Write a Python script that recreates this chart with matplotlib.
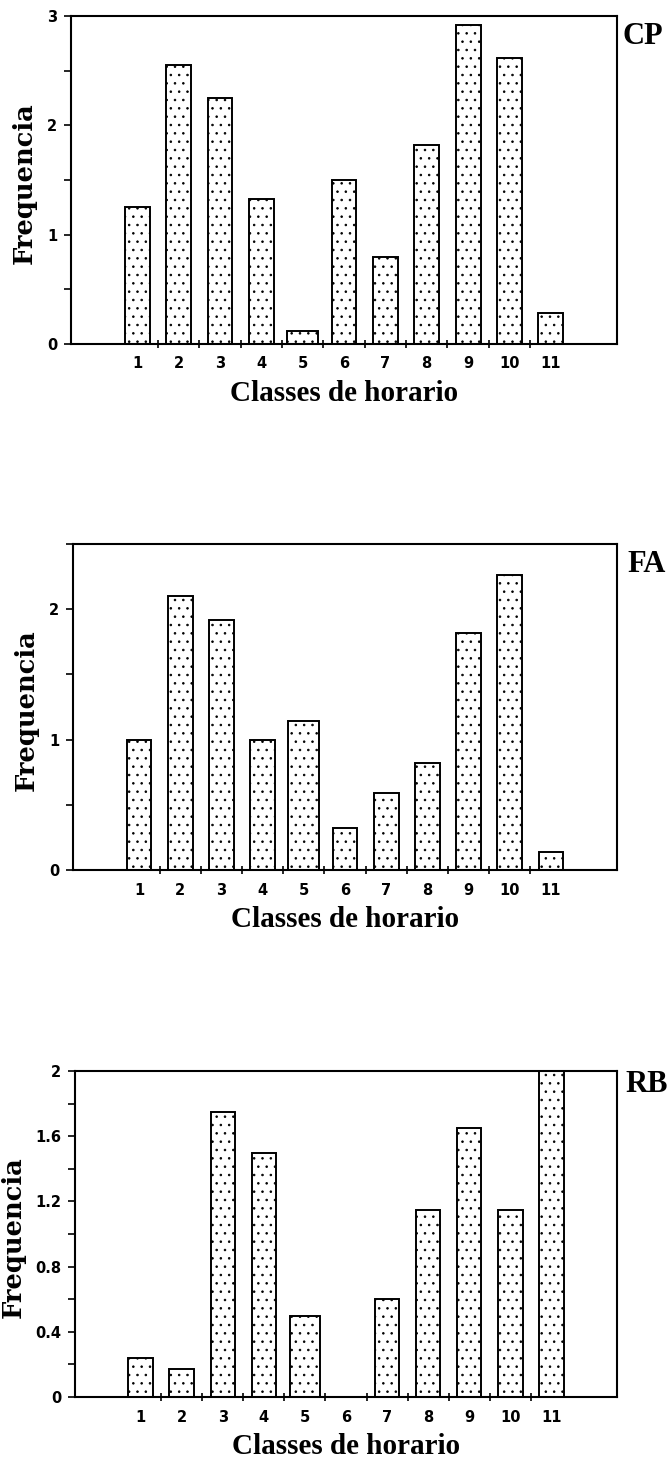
import matplotlib
matplotlib.use("Agg")
import matplotlib.pyplot as plt
import numpy as np

# Hourly-class frequencies for three sites
classes = [1, 2, 3, 4, 5, 6, 7, 8, 9, 10, 11]
class_labels = [str(c) for c in classes]

cp_freq = [1.25, 2.55, 2.25, 1.33, 0.12, 1.50, 0.80, 1.82, 2.92, 2.62, 0.28]
fa_freq = [1.00, 2.10, 1.92, 1.00, 1.14, 0.32, 0.59, 0.82, 1.82, 2.26, 0.14]
rb_freq = [0.24, 0.17, 1.75, 1.50, 0.50, 0.00, 0.60, 1.15, 1.65, 1.15, 2.00]

site_names = ["CP", "FA", "RB"]

cp_yticks = [0, 1, 2, 3]
fa_yticks = [0, 1, 2]
rb_yticks = [0, 0.4, 0.8, 1.2, 1.6, 2]
rb_ytick_labels = ["0", "0.4", "0.8", "1.2", "1.6", "2"]

W, H = 671, 1461
fig = plt.figure(figsize=(W / 100, H / 100), dpi=100)

serif = ["Liberation Serif", "DejaVu Serif"]
wide_serif = ["DejaVu Serif"]
tickfont = ["DejaVu Sans"]

plt.rcParams["hatch.linewidth"] = 0.6

# pixel boxes: left, top, right, bottom
boxes = [(71, 16, 617, 344), (73, 544, 617, 870), (75, 1071, 617, 1397)]

panels = [
    (cp_freq, (0, 3), cp_yticks, [str(t) for t in cp_yticks], 0.5, site_names[0], (622, 22), 34),
    (fa_freq, (0, 2.5), fa_yticks, [str(t) for t in fa_yticks], 0.5, site_names[1], (627, 550), 34),
    (rb_freq, (0, 2), rb_yticks, rb_ytick_labels, 0.2, site_names[2], (625, 1070), 49),
]

widths = [0.6] * len(classes)
widths[4] = 0.75

for (vals, ylim, yt, ytl, minor_step, name, (tx, ty), ylab_off), (l, t, r, b) in zip(panels, boxes):
    ax = fig.add_axes([l / W, 1 - b / H, (r - l) / W, (b - t) / H])
    ax.bar(classes, vals, width=widths, facecolor="white", edgecolor="black",
           linewidth=1.4, hatch="..", zorder=2)
    ax.set_xlim(-0.6, 12.6)
    ax.set_ylim(*ylim)

    for s in ax.spines.values():
        s.set_linewidth(1.5)

    # x: labels under bars, tick marks between classes
    ax.set_xticks(classes)
    ax.set_xticklabels(class_labels, fontfamily=tickfont, fontweight="bold", fontsize=10.5)
    ax.set_xticks([c + 0.5 for c in classes[:-1]], minor=True)
    ax.tick_params(axis="x", which="major", length=0, pad=9)
    ax.tick_params(axis="x", which="minor", direction="inout", length=6, width=1.2)

    # y ticks
    ax.set_yticks(yt)
    ax.set_yticklabels(ytl, fontfamily=tickfont, fontweight="bold", fontsize=10.5)
    ax.set_yticks(np.arange(0, ylim[1] + 1e-9, minor_step), minor=True)
    ax.tick_params(axis="y", which="both", direction="out", length=5, width=1.2, pad=5)

    ax.set_xlabel("Classes de horario", fontfamily=serif, fontweight="bold", fontsize=21)
    ax.xaxis.labelpad = 6

    ax.set_ylabel("Frequencia", fontfamily=wide_serif, fontweight="bold", fontsize=18.5)
    ax.yaxis.set_label_coords(-ylab_off / (r - l), 0.49)

    fig.text(tx / W, 1 - ty / H, name, fontfamily=serif, fontweight="bold",
             fontsize=22, ha="left", va="top")

fig.savefig("out.png", dpi=100)
